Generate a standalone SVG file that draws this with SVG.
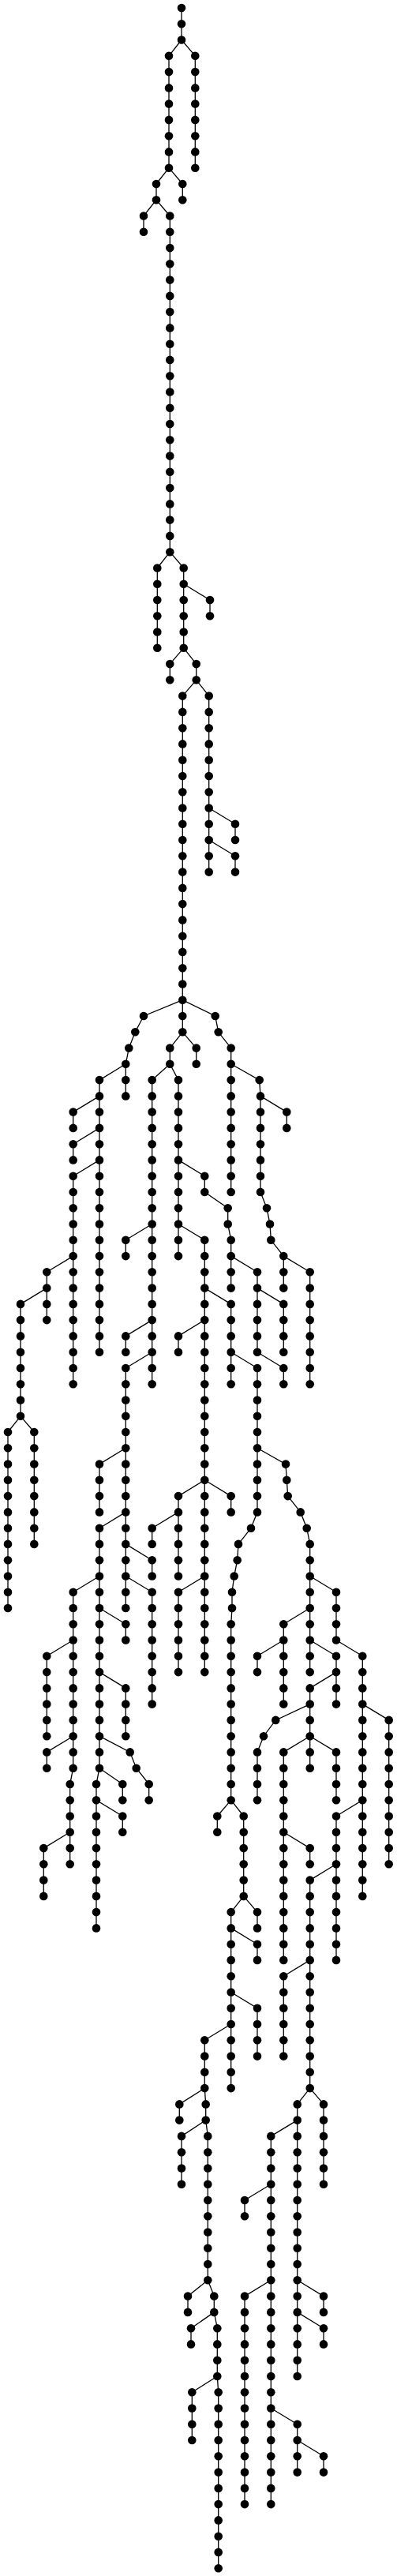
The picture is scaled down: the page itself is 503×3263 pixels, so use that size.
<svg xmlns="http://www.w3.org/2000/svg" width="503" height="3263" viewBox="0 0 503 3263">
<style>
#connectors path{fill:none;stroke:#000;stroke-width:1.3}
#nodes circle{fill:#000}
</style>
<rect width="503" height="3263" fill="#fff"/>
<g id="connectors">
<path d="M230 10V50.5M214 70.8V212.7M247.3 70.8V212.7M198 233V253.2M231.3 233V253.2M182 273.5V293.8M215.3 273.5V699.2M199.3 719.5V820.8M232.7 719.5V820.8M266 760V780.3M215.3 841.1V861.3M248.7 841.1V861.3M231.3 881.6V1307.3M264.7 881.6V1104.6M298 1043.8V1064M298 1084.3V1104.6M292.7 1327.6V1510M215.3 1327.6V1347.8M248.7 1327.6V1347.8M159.3 1347.8V1388.4M126 1368.1V1712.7M92.7 1408.6V1428.9M92.7 1449.2V1469.4M92.7 1489.7V1753.2M59.3 1611.3V1672.1M26 1651.9V1793.8M10 1814V2037M43.3 1814V1955.9M192.7 1368.1V1753.2M159.3 1570.8V1591.1M159.3 1692.4V1712.7M159.3 1733V2037M126 1854.6V1915.4M126 1935.7V2239.7M122 2260V2442.4M192.7 1976.2V1996.5M192.7 2016.7V2158.6M92.7 2016.7V2239.7M88.7 2260V2361.3M59.3 2097.8V2199.2M59.3 2219.4V2239.7M55.3 2341.1V2401.9M159.3 2057.3V2077.5M159.3 2138.4V2199.2M188.7 2260V2280.2M155.3 2260V2280.2M155.3 2300.5V2320.8M226 1368.1V1591.1M259.3 1489.7V1510M288.7 1530.3V1550.5M292.7 1570.8V1631.6M326 1611.3V1712.7M359.3 1651.9V1712.7M359.3 1733V1753.2M292.7 1651.9V1753.2M326 1733V1915.4M294 2016.7V2037M292.7 2057.3V2280.2M392.7 1955.9V2118.1M426 2016.7V2077.5M459.3 2097.8V2401.9M492.7 2178.9V2361.3M426 2097.8V2158.6M392.7 2138.4V2239.7M359.3 2057.3V2158.6M326 2097.8V2118.1M326 2219.4V2280.2M359.3 2219.4V2482.9M426 2219.4V2280.2M392.7 2341.1V2361.3M426 2300.5V2482.9M392.7 2381.6V2645.1M275.3 2300.5V2320.8M308.7 2300.5V2401.9M292.7 2422.1V2645.1M326 2422.1V2442.4M326 2462.7V2482.9M326 2543.8V2604.6M259.3 2584.3V2645.1M359.3 2503.2V2604.6M227.3 2665.4V2685.6M260.7 2665.4V2685.6M230 2705.9V2766.7M263.3 2705.9V2888.3M376.7 2665.4V3010M410 2665.4V2766.7M343.3 2705.9V3172.1M310 2787V2807.3M310 2908.6V3172.1M410 2908.6V2928.9M410 2949.2V2969.4M238 2908.6V2928.9M271.3 2908.6V2928.9M242 2949.2V2969.4M275.3 2949.2V3010M243.3 3030.2V3091M276.7 3030.2V3253.2M376.7 3070.8V3131.6M410 3111.3V3131.6M330 1388.4V1510M359.3 1591.1V1631.6M363.3 1408.6V1428.9M392.7 1611.3V1753.2M259.3 1570.8V2118.1M226 1692.4V1712.7M226 1895.1V1996.5M292.7 1895.1V1915.4M192.7 1935.7V1955.9M226 2016.7V2118.1"/>
<path d="M230 50.5L214 70.8M230 50.5L247.3 70.8M214 212.7L198 233M214 212.7L231.3 233M198 253.2L182 273.5M198 253.2L215.3 273.5M215.3 699.2L199.3 719.5M215.3 699.2L232.7 719.5M232.7 739.7L266 760M232.7 820.8L215.3 841.1M232.7 820.8L248.7 841.1M248.7 861.3L231.3 881.6M248.7 861.3L264.7 881.6M264.7 1023.5L298 1043.8M264.7 1064L298 1084.3M231.3 1266.7L182 1287L171.3 1307.3L163.3 1327.6L159.3 1347.8M231.3 1266.7L272.7 1287L276.7 1307.3L292.7 1327.6M159.3 1347.8L126 1368.1M231.3 1307.3L215.3 1327.6M231.3 1307.3L248.7 1327.6M292.7 1347.8L328.7 1368.1L330 1388.4M330 1510L338 1530.3L342 1550.5L343.3 1570.8L359.3 1591.1M330 1388.4L363.3 1408.6M359.3 1591.1L392.7 1611.3M215.3 1347.8L192.7 1368.1M215.3 1347.8L226 1368.1M126 1388.4L92.7 1408.6M126 1428.9L92.7 1449.2M126 1469.4L92.7 1489.7M92.7 1591.1L59.3 1611.3M59.3 1631.6L26 1651.9M26 1793.8L10 1814M26 1793.8L43.3 1814M192.7 1550.5L159.3 1570.8M192.7 1672.1L159.3 1692.4M192.7 1712.7L159.3 1733M159.3 1834.3L126 1854.6M159.3 1915.4L126 1935.7M159.3 1955.9L192.7 1976.2M159.3 1996.5L192.7 2016.7M126 1996.5L92.7 2016.7M126 2037L159.3 2057.3M126 2118.1L159.3 2138.4M126 2199.2L164.7 2219.4L172.7 2239.7L188.7 2260M126 2239.7L155.3 2260M126 2239.7L122 2260M122 2280.2L155.3 2300.5M92.7 2077.5L59.3 2097.8M92.7 2199.2L59.3 2219.4M92.7 2239.7L88.7 2260M88.7 2320.8L55.3 2341.1M226 1469.4L259.3 1489.7M226 1550.5L259.3 1570.8M259.3 1510L288.7 1530.3M288.7 1550.5L292.7 1570.8M292.7 1591.1L326 1611.3M326 1631.6L359.3 1651.9M326 1712.7L359.3 1733M259.3 1631.6L292.7 1651.9M259.3 1672.1L226 1692.4M259.3 1874.8L226 1895.1M259.3 1874.8L292.7 1895.1M259.3 1996.5L226 2016.7M226 1915.4L192.7 1935.7M292.7 1712.7L326 1733M326 1915.4L318 1935.7L302 1955.9L300.7 1976.2L296.7 1996.5L294 2016.7M294 2037L292.7 2057.3M326 1834.3L362 1854.6L363.3 1874.8L364.7 1895.1L380.7 1915.4L388.7 1935.7L392.7 1955.9M392.7 1996.5L426 2016.7M392.7 2037L359.3 2057.3M392.7 2077.5L426 2097.8M426 2077.5L459.3 2097.8M426 2118.1L392.7 2138.4M392.7 2158.6L349.3 2178.9L334 2199.2L326 2219.4M392.7 2199.2L359.3 2219.4M392.7 2199.2L426 2219.4M459.3 2158.6L492.7 2178.9M459.3 2280.2L426 2300.5M359.3 2077.5L326 2097.8M359.3 2320.8L392.7 2341.1M426 2361.3L392.7 2381.6M392.7 2482.9L359.3 2503.2M392.7 2645.1L376.7 2665.4M392.7 2645.1L410 2665.4M292.7 2280.2L275.3 2300.5M292.7 2280.2L308.7 2300.5M308.7 2401.9L292.7 2422.1M308.7 2401.9L326 2422.1M292.7 2442.4L326 2462.7M292.7 2523.5L326 2543.8M292.7 2564L259.3 2584.3M259.3 2645.1L227.3 2665.4M259.3 2645.1L260.7 2665.4M260.7 2685.6L230 2705.9M260.7 2685.6L263.3 2705.9M263.3 2888.3L238 2908.6M263.3 2888.3L271.3 2908.6M271.3 2928.9L242 2949.2M271.3 2928.9L275.3 2949.2M275.3 3010L243.3 3030.2M275.3 3010L276.7 3030.2M376.7 2685.6L343.3 2705.9M376.7 2888.3L410 2908.6M376.7 2928.9L410 2949.2M343.3 2766.7L310 2787M343.3 2888.3L310 2908.6M343.3 3050.5L376.7 3070.8M376.7 3091L410 3111.3"/>
</g>
<g id="nodes">
<circle id="n0_690" cx="230" cy="10" r="5.3"/><circle id="n1_690" cx="230" cy="30.3" r="5.3"/><circle id="n2_690" cx="230" cy="50.5" r="5.3"/>
<circle id="n3_642" cx="214" cy="70.8" r="5.3"/><circle id="n4_642" cx="214" cy="91.1" r="5.3"/><circle id="n5_642" cx="214" cy="111.4" r="5.3"/><circle id="n6_642" cx="214" cy="131.6" r="5.3"/><circle id="n7_642" cx="214" cy="151.9" r="5.3"/><circle id="n8_642" cx="214" cy="172.2" r="5.3"/><circle id="n9_642" cx="214" cy="192.4" r="5.3"/><circle id="n10_642" cx="214" cy="212.7" r="5.3"/>
<circle id="n3_742" cx="247.3" cy="70.8" r="5.3"/><circle id="n4_742" cx="247.3" cy="91.1" r="5.3"/><circle id="n5_742" cx="247.3" cy="111.4" r="5.3"/><circle id="n6_742" cx="247.3" cy="131.6" r="5.3"/><circle id="n7_742" cx="247.3" cy="151.9" r="5.3"/><circle id="n8_742" cx="247.3" cy="172.2" r="5.3"/><circle id="n9_742" cx="247.3" cy="192.4" r="5.3"/><circle id="n10_742" cx="247.3" cy="212.7" r="5.3"/>
<circle id="n11_594" cx="198" cy="233" r="5.3"/><circle id="n12_594" cx="198" cy="253.2" r="5.3"/>
<circle id="n11_694" cx="231.3" cy="233" r="5.3"/><circle id="n12_694" cx="231.3" cy="253.2" r="5.3"/>
<circle id="n13_546" cx="182" cy="273.5" r="5.3"/><circle id="n14_546" cx="182" cy="293.8" r="5.3"/>
<circle id="n13_646" cx="215.3" cy="273.5" r="5.3"/><circle id="n14_646" cx="215.3" cy="293.8" r="5.3"/><circle id="n15_646" cx="215.3" cy="314.1" r="5.3"/><circle id="n16_646" cx="215.3" cy="334.3" r="5.3"/><circle id="n17_646" cx="215.3" cy="354.6" r="5.3"/><circle id="n18_646" cx="215.3" cy="374.9" r="5.3"/><circle id="n19_646" cx="215.3" cy="395.1" r="5.3"/><circle id="n20_646" cx="215.3" cy="415.4" r="5.3"/><circle id="n21_646" cx="215.3" cy="435.7" r="5.3"/><circle id="n22_646" cx="215.3" cy="455.9" r="5.3"/><circle id="n23_646" cx="215.3" cy="476.2" r="5.3"/><circle id="n24_646" cx="215.3" cy="496.5" r="5.3"/><circle id="n25_646" cx="215.3" cy="516.8" r="5.3"/><circle id="n26_646" cx="215.3" cy="537" r="5.3"/><circle id="n27_646" cx="215.3" cy="557.3" r="5.3"/><circle id="n28_646" cx="215.3" cy="577.6" r="5.3"/><circle id="n29_646" cx="215.3" cy="597.8" r="5.3"/><circle id="n30_646" cx="215.3" cy="618.1" r="5.3"/><circle id="n31_646" cx="215.3" cy="638.4" r="5.3"/><circle id="n32_646" cx="215.3" cy="658.6" r="5.3"/><circle id="n33_646" cx="215.3" cy="678.9" r="5.3"/><circle id="n34_646" cx="215.3" cy="699.2" r="5.3"/>
<circle id="n35_598" cx="199.3" cy="719.5" r="5.3"/><circle id="n36_598" cx="199.3" cy="739.7" r="5.3"/><circle id="n37_598" cx="199.3" cy="760" r="5.3"/><circle id="n38_598" cx="199.3" cy="780.3" r="5.3"/><circle id="n39_598" cx="199.3" cy="800.5" r="5.3"/><circle id="n40_598" cx="199.3" cy="820.8" r="5.3"/>
<circle id="n35_698" cx="232.7" cy="719.5" r="5.3"/><circle id="n36_698" cx="232.7" cy="739.7" r="5.3"/><circle id="n37_698" cx="232.7" cy="760" r="5.3"/><circle id="n38_698" cx="232.7" cy="780.3" r="5.3"/><circle id="n39_698" cx="232.7" cy="800.5" r="5.3"/><circle id="n40_698" cx="232.7" cy="820.8" r="5.3"/>
<circle id="n37_798" cx="266" cy="760" r="5.3"/><circle id="n38_798" cx="266" cy="780.3" r="5.3"/>
<circle id="n41_646" cx="215.3" cy="841.1" r="5.3"/><circle id="n42_646" cx="215.3" cy="861.3" r="5.3"/>
<circle id="n41_746" cx="248.7" cy="841.1" r="5.3"/><circle id="n42_746" cx="248.7" cy="861.3" r="5.3"/>
<circle id="n43_694" cx="231.3" cy="881.6" r="5.3"/><circle id="n44_694" cx="231.3" cy="901.9" r="5.3"/><circle id="n45_694" cx="231.3" cy="922.2" r="5.3"/><circle id="n46_694" cx="231.3" cy="942.4" r="5.3"/><circle id="n47_694" cx="231.3" cy="962.7" r="5.3"/><circle id="n48_694" cx="231.3" cy="983" r="5.3"/><circle id="n49_694" cx="231.3" cy="1003.2" r="5.3"/><circle id="n50_694" cx="231.3" cy="1023.5" r="5.3"/><circle id="n51_694" cx="231.3" cy="1043.8" r="5.3"/><circle id="n52_694" cx="231.3" cy="1064" r="5.3"/><circle id="n53_694" cx="231.3" cy="1084.3" r="5.3"/><circle id="n54_694" cx="231.3" cy="1104.6" r="5.3"/><circle id="n55_694" cx="231.3" cy="1124.9" r="5.3"/><circle id="n56_694" cx="231.3" cy="1145.1" r="5.3"/><circle id="n57_694" cx="231.3" cy="1165.4" r="5.3"/><circle id="n58_694" cx="231.3" cy="1185.7" r="5.3"/><circle id="n59_694" cx="231.3" cy="1205.9" r="5.3"/><circle id="n60_694" cx="231.3" cy="1226.2" r="5.3"/><circle id="n61_694" cx="231.3" cy="1246.5" r="5.3"/><circle id="n62_694" cx="231.3" cy="1266.7" r="5.3"/><circle id="n63_694" cx="231.3" cy="1287" r="5.3"/><circle id="n64_694" cx="231.3" cy="1307.3" r="5.3"/>
<circle id="n43_794" cx="264.7" cy="881.6" r="5.3"/><circle id="n44_794" cx="264.7" cy="901.9" r="5.3"/><circle id="n45_794" cx="264.7" cy="922.2" r="5.3"/><circle id="n46_794" cx="264.7" cy="942.4" r="5.3"/><circle id="n47_794" cx="264.7" cy="962.7" r="5.3"/><circle id="n48_794" cx="264.7" cy="983" r="5.3"/><circle id="n49_794" cx="264.7" cy="1003.2" r="5.3"/><circle id="n50_794" cx="264.7" cy="1023.5" r="5.3"/><circle id="n51_794" cx="264.7" cy="1043.8" r="5.3"/><circle id="n52_794" cx="264.7" cy="1064" r="5.3"/><circle id="n53_794" cx="264.7" cy="1084.3" r="5.3"/><circle id="n54_794" cx="264.7" cy="1104.6" r="5.3"/>
<circle id="n51_894" cx="298" cy="1043.8" r="5.3"/><circle id="n52_894" cx="298" cy="1064" r="5.3"/><circle id="n53_894" cx="298" cy="1084.3" r="5.3"/><circle id="n54_894" cx="298" cy="1104.6" r="5.3"/>
<circle id="n63_546" cx="182" cy="1287" r="5.3"/><circle id="n64_514" cx="171.3" cy="1307.3" r="5.3"/><circle id="n65_490" cx="163.3" cy="1327.6" r="5.3"/><circle id="n66_478" cx="159.3" cy="1347.8" r="5.3"/><circle id="n67_478" cx="159.3" cy="1368.1" r="5.3"/><circle id="n68_478" cx="159.3" cy="1388.4" r="5.3"/>
<circle id="n63_818" cx="272.7" cy="1287" r="5.3"/><circle id="n64_830" cx="276.7" cy="1307.3" r="5.3"/>
<circle id="n65_878" cx="292.7" cy="1327.6" r="5.3"/><circle id="n66_878" cx="292.7" cy="1347.8" r="5.3"/><circle id="n67_878" cx="292.7" cy="1368.1" r="5.3"/><circle id="n68_878" cx="292.7" cy="1388.4" r="5.3"/><circle id="n69_878" cx="292.7" cy="1408.6" r="5.3"/><circle id="n70_878" cx="292.7" cy="1428.9" r="5.3"/><circle id="n71_878" cx="292.7" cy="1449.2" r="5.3"/><circle id="n72_878" cx="292.7" cy="1469.4" r="5.3"/><circle id="n73_878" cx="292.7" cy="1489.7" r="5.3"/><circle id="n74_878" cx="292.7" cy="1510" r="5.3"/>
<circle id="n65_646" cx="215.3" cy="1327.6" r="5.3"/><circle id="n66_646" cx="215.3" cy="1347.8" r="5.3"/>
<circle id="n65_746" cx="248.7" cy="1327.6" r="5.3"/><circle id="n66_746" cx="248.7" cy="1347.8" r="5.3"/>
<circle id="n67_378" cx="126" cy="1368.1" r="5.3"/><circle id="n68_378" cx="126" cy="1388.4" r="5.3"/><circle id="n69_378" cx="126" cy="1408.6" r="5.3"/><circle id="n70_378" cx="126" cy="1428.9" r="5.3"/><circle id="n71_378" cx="126" cy="1449.2" r="5.3"/><circle id="n72_378" cx="126" cy="1469.4" r="5.3"/><circle id="n73_378" cx="126" cy="1489.7" r="5.3"/><circle id="n74_378" cx="126" cy="1510" r="5.3"/><circle id="n75_378" cx="126" cy="1530.3" r="5.3"/><circle id="n76_378" cx="126" cy="1550.5" r="5.3"/><circle id="n77_378" cx="126" cy="1570.8" r="5.3"/><circle id="n78_378" cx="126" cy="1591.1" r="5.3"/><circle id="n79_378" cx="126" cy="1611.3" r="5.3"/><circle id="n80_378" cx="126" cy="1631.6" r="5.3"/><circle id="n81_378" cx="126" cy="1651.9" r="5.3"/><circle id="n82_378" cx="126" cy="1672.1" r="5.3"/><circle id="n83_378" cx="126" cy="1692.4" r="5.3"/><circle id="n84_378" cx="126" cy="1712.7" r="5.3"/>
<circle id="n69_278" cx="92.7" cy="1408.6" r="5.3"/><circle id="n70_278" cx="92.7" cy="1428.9" r="5.3"/>
<circle id="n71_278" cx="92.7" cy="1449.2" r="5.3"/><circle id="n72_278" cx="92.7" cy="1469.4" r="5.3"/>
<circle id="n73_278" cx="92.7" cy="1489.7" r="5.3"/><circle id="n74_278" cx="92.7" cy="1510" r="5.3"/><circle id="n75_278" cx="92.7" cy="1530.3" r="5.3"/><circle id="n76_278" cx="92.7" cy="1550.5" r="5.3"/><circle id="n77_278" cx="92.7" cy="1570.8" r="5.3"/><circle id="n78_278" cx="92.7" cy="1591.1" r="5.3"/><circle id="n79_278" cx="92.7" cy="1611.3" r="5.3"/><circle id="n80_278" cx="92.7" cy="1631.6" r="5.3"/><circle id="n81_278" cx="92.7" cy="1651.9" r="5.3"/><circle id="n82_278" cx="92.7" cy="1672.1" r="5.3"/><circle id="n83_278" cx="92.7" cy="1692.4" r="5.3"/><circle id="n84_278" cx="92.7" cy="1712.7" r="5.3"/><circle id="n85_278" cx="92.7" cy="1733" r="5.3"/><circle id="n86_278" cx="92.7" cy="1753.2" r="5.3"/>
<circle id="n79_178" cx="59.3" cy="1611.3" r="5.3"/><circle id="n80_178" cx="59.3" cy="1631.6" r="5.3"/><circle id="n81_178" cx="59.3" cy="1651.9" r="5.3"/><circle id="n82_178" cx="59.3" cy="1672.1" r="5.3"/>
<circle id="n81_78" cx="26" cy="1651.9" r="5.3"/><circle id="n82_78" cx="26" cy="1672.1" r="5.3"/><circle id="n83_78" cx="26" cy="1692.4" r="5.3"/><circle id="n84_78" cx="26" cy="1712.7" r="5.3"/><circle id="n85_78" cx="26" cy="1733" r="5.3"/><circle id="n86_78" cx="26" cy="1753.2" r="5.3"/><circle id="n87_78" cx="26" cy="1773.5" r="5.3"/><circle id="n88_78" cx="26" cy="1793.8" r="5.3"/>
<circle id="n89_30" cx="10" cy="1814" r="5.3"/><circle id="n90_30" cx="10" cy="1834.3" r="5.3"/><circle id="n91_30" cx="10" cy="1854.6" r="5.3"/><circle id="n92_30" cx="10" cy="1874.8" r="5.3"/><circle id="n93_30" cx="10" cy="1895.1" r="5.3"/><circle id="n94_30" cx="10" cy="1915.4" r="5.3"/><circle id="n95_30" cx="10" cy="1935.7" r="5.3"/><circle id="n96_30" cx="10" cy="1955.9" r="5.3"/><circle id="n97_30" cx="10" cy="1976.2" r="5.3"/><circle id="n98_30" cx="10" cy="1996.5" r="5.3"/><circle id="n99_30" cx="10" cy="2016.7" r="5.3"/><circle id="n100_30" cx="10" cy="2037" r="5.3"/>
<circle id="n89_130" cx="43.3" cy="1814" r="5.3"/><circle id="n90_130" cx="43.3" cy="1834.3" r="5.3"/><circle id="n91_130" cx="43.3" cy="1854.6" r="5.3"/><circle id="n92_130" cx="43.3" cy="1874.8" r="5.3"/><circle id="n93_130" cx="43.3" cy="1895.1" r="5.3"/><circle id="n94_130" cx="43.3" cy="1915.4" r="5.3"/><circle id="n95_130" cx="43.3" cy="1935.7" r="5.3"/><circle id="n96_130" cx="43.3" cy="1955.9" r="5.3"/>
<circle id="n67_578" cx="192.7" cy="1368.1" r="5.3"/><circle id="n68_578" cx="192.7" cy="1388.4" r="5.3"/><circle id="n69_578" cx="192.7" cy="1408.6" r="5.3"/><circle id="n70_578" cx="192.7" cy="1428.9" r="5.3"/><circle id="n71_578" cx="192.7" cy="1449.2" r="5.3"/><circle id="n72_578" cx="192.7" cy="1469.4" r="5.3"/><circle id="n73_578" cx="192.7" cy="1489.7" r="5.3"/><circle id="n74_578" cx="192.7" cy="1510" r="5.3"/><circle id="n75_578" cx="192.7" cy="1530.3" r="5.3"/><circle id="n76_578" cx="192.7" cy="1550.5" r="5.3"/><circle id="n77_578" cx="192.7" cy="1570.8" r="5.3"/><circle id="n78_578" cx="192.7" cy="1591.1" r="5.3"/><circle id="n79_578" cx="192.7" cy="1611.3" r="5.3"/><circle id="n80_578" cx="192.7" cy="1631.6" r="5.3"/><circle id="n81_578" cx="192.7" cy="1651.9" r="5.3"/><circle id="n82_578" cx="192.7" cy="1672.1" r="5.3"/><circle id="n83_578" cx="192.7" cy="1692.4" r="5.3"/><circle id="n84_578" cx="192.7" cy="1712.7" r="5.3"/><circle id="n85_578" cx="192.7" cy="1733" r="5.3"/><circle id="n86_578" cx="192.7" cy="1753.2" r="5.3"/>
<circle id="n77_478" cx="159.3" cy="1570.8" r="5.3"/><circle id="n78_478" cx="159.3" cy="1591.1" r="5.3"/>
<circle id="n83_478" cx="159.3" cy="1692.4" r="5.3"/><circle id="n84_478" cx="159.3" cy="1712.7" r="5.3"/>
<circle id="n85_478" cx="159.3" cy="1733" r="5.3"/><circle id="n86_478" cx="159.3" cy="1753.2" r="5.3"/><circle id="n87_478" cx="159.3" cy="1773.5" r="5.3"/><circle id="n88_478" cx="159.3" cy="1793.8" r="5.3"/><circle id="n89_478" cx="159.3" cy="1814" r="5.3"/><circle id="n90_478" cx="159.3" cy="1834.3" r="5.3"/><circle id="n91_478" cx="159.3" cy="1854.6" r="5.3"/><circle id="n92_478" cx="159.3" cy="1874.8" r="5.3"/><circle id="n93_478" cx="159.3" cy="1895.1" r="5.3"/><circle id="n94_478" cx="159.3" cy="1915.4" r="5.3"/><circle id="n95_478" cx="159.3" cy="1935.7" r="5.3"/><circle id="n96_478" cx="159.3" cy="1955.9" r="5.3"/><circle id="n97_478" cx="159.3" cy="1976.2" r="5.3"/><circle id="n98_478" cx="159.3" cy="1996.5" r="5.3"/><circle id="n99_478" cx="159.3" cy="2016.7" r="5.3"/><circle id="n100_478" cx="159.3" cy="2037" r="5.3"/>
<circle id="n91_378" cx="126" cy="1854.6" r="5.3"/><circle id="n92_378" cx="126" cy="1874.8" r="5.3"/><circle id="n93_378" cx="126" cy="1895.1" r="5.3"/><circle id="n94_378" cx="126" cy="1915.4" r="5.3"/>
<circle id="n95_378" cx="126" cy="1935.7" r="5.3"/><circle id="n96_378" cx="126" cy="1955.9" r="5.3"/><circle id="n97_378" cx="126" cy="1976.2" r="5.3"/><circle id="n98_378" cx="126" cy="1996.5" r="5.3"/><circle id="n99_378" cx="126" cy="2016.7" r="5.3"/><circle id="n100_378" cx="126" cy="2037" r="5.3"/><circle id="n101_378" cx="126" cy="2057.3" r="5.3"/><circle id="n102_378" cx="126" cy="2077.5" r="5.3"/><circle id="n103_378" cx="126" cy="2097.8" r="5.3"/><circle id="n104_378" cx="126" cy="2118.1" r="5.3"/><circle id="n105_378" cx="126" cy="2138.4" r="5.3"/><circle id="n106_378" cx="126" cy="2158.6" r="5.3"/><circle id="n107_378" cx="126" cy="2178.9" r="5.3"/><circle id="n108_378" cx="126" cy="2199.2" r="5.3"/><circle id="n109_378" cx="126" cy="2219.4" r="5.3"/><circle id="n110_378" cx="126" cy="2239.7" r="5.3"/>
<circle id="n111_366" cx="122" cy="2260" r="5.3"/><circle id="n112_366" cx="122" cy="2280.2" r="5.3"/><circle id="n113_366" cx="122" cy="2300.5" r="5.3"/><circle id="n114_366" cx="122" cy="2320.8" r="5.3"/><circle id="n115_366" cx="122" cy="2341.1" r="5.3"/><circle id="n116_366" cx="122" cy="2361.3" r="5.3"/><circle id="n117_366" cx="122" cy="2381.6" r="5.3"/><circle id="n118_366" cx="122" cy="2401.9" r="5.3"/><circle id="n119_366" cx="122" cy="2422.1" r="5.3"/><circle id="n120_366" cx="122" cy="2442.4" r="5.3"/>
<circle id="n97_578" cx="192.7" cy="1976.2" r="5.3"/><circle id="n98_578" cx="192.7" cy="1996.5" r="5.3"/>
<circle id="n99_578" cx="192.7" cy="2016.7" r="5.3"/><circle id="n100_578" cx="192.7" cy="2037" r="5.3"/><circle id="n101_578" cx="192.7" cy="2057.3" r="5.3"/><circle id="n102_578" cx="192.7" cy="2077.5" r="5.3"/><circle id="n103_578" cx="192.7" cy="2097.8" r="5.3"/><circle id="n104_578" cx="192.7" cy="2118.1" r="5.3"/><circle id="n105_578" cx="192.7" cy="2138.4" r="5.3"/><circle id="n106_578" cx="192.7" cy="2158.6" r="5.3"/>
<circle id="n99_278" cx="92.7" cy="2016.7" r="5.3"/><circle id="n100_278" cx="92.7" cy="2037" r="5.3"/><circle id="n101_278" cx="92.7" cy="2057.3" r="5.3"/><circle id="n102_278" cx="92.7" cy="2077.5" r="5.3"/><circle id="n103_278" cx="92.7" cy="2097.8" r="5.3"/><circle id="n104_278" cx="92.7" cy="2118.1" r="5.3"/><circle id="n105_278" cx="92.7" cy="2138.4" r="5.3"/><circle id="n106_278" cx="92.7" cy="2158.6" r="5.3"/><circle id="n107_278" cx="92.7" cy="2178.9" r="5.3"/><circle id="n108_278" cx="92.7" cy="2199.2" r="5.3"/><circle id="n109_278" cx="92.7" cy="2219.4" r="5.3"/><circle id="n110_278" cx="92.7" cy="2239.7" r="5.3"/>
<circle id="n111_266" cx="88.7" cy="2260" r="5.3"/><circle id="n112_266" cx="88.7" cy="2280.2" r="5.3"/><circle id="n113_266" cx="88.7" cy="2300.5" r="5.3"/><circle id="n114_266" cx="88.7" cy="2320.8" r="5.3"/><circle id="n115_266" cx="88.7" cy="2341.1" r="5.3"/><circle id="n116_266" cx="88.7" cy="2361.3" r="5.3"/>
<circle id="n103_178" cx="59.3" cy="2097.8" r="5.3"/><circle id="n104_178" cx="59.3" cy="2118.1" r="5.3"/><circle id="n105_178" cx="59.3" cy="2138.4" r="5.3"/><circle id="n106_178" cx="59.3" cy="2158.6" r="5.3"/><circle id="n107_178" cx="59.3" cy="2178.9" r="5.3"/><circle id="n108_178" cx="59.3" cy="2199.2" r="5.3"/>
<circle id="n109_178" cx="59.3" cy="2219.4" r="5.3"/><circle id="n110_178" cx="59.3" cy="2239.7" r="5.3"/>
<circle id="n115_166" cx="55.3" cy="2341.1" r="5.3"/><circle id="n116_166" cx="55.3" cy="2361.3" r="5.3"/><circle id="n117_166" cx="55.3" cy="2381.6" r="5.3"/><circle id="n118_166" cx="55.3" cy="2401.9" r="5.3"/>
<circle id="n101_478" cx="159.3" cy="2057.3" r="5.3"/><circle id="n102_478" cx="159.3" cy="2077.5" r="5.3"/>
<circle id="n105_478" cx="159.3" cy="2138.4" r="5.3"/><circle id="n106_478" cx="159.3" cy="2158.6" r="5.3"/><circle id="n107_478" cx="159.3" cy="2178.9" r="5.3"/><circle id="n108_478" cx="159.3" cy="2199.2" r="5.3"/>
<circle id="n109_494" cx="164.7" cy="2219.4" r="5.3"/><circle id="n110_518" cx="172.7" cy="2239.7" r="5.3"/><circle id="n111_566" cx="188.7" cy="2260" r="5.3"/><circle id="n112_566" cx="188.7" cy="2280.2" r="5.3"/>
<circle id="n111_466" cx="155.3" cy="2260" r="5.3"/><circle id="n112_466" cx="155.3" cy="2280.2" r="5.3"/>
<circle id="n113_466" cx="155.3" cy="2300.5" r="5.3"/><circle id="n114_466" cx="155.3" cy="2320.8" r="5.3"/>
<circle id="n67_678" cx="226" cy="1368.1" r="5.3"/><circle id="n68_678" cx="226" cy="1388.4" r="5.3"/><circle id="n69_678" cx="226" cy="1408.6" r="5.3"/><circle id="n70_678" cx="226" cy="1428.9" r="5.3"/><circle id="n71_678" cx="226" cy="1449.2" r="5.3"/><circle id="n72_678" cx="226" cy="1469.4" r="5.3"/><circle id="n73_678" cx="226" cy="1489.7" r="5.3"/><circle id="n74_678" cx="226" cy="1510" r="5.3"/><circle id="n75_678" cx="226" cy="1530.3" r="5.3"/><circle id="n76_678" cx="226" cy="1550.5" r="5.3"/><circle id="n77_678" cx="226" cy="1570.8" r="5.3"/><circle id="n78_678" cx="226" cy="1591.1" r="5.3"/>
<circle id="n73_778" cx="259.3" cy="1489.7" r="5.3"/><circle id="n74_778" cx="259.3" cy="1510" r="5.3"/>
<circle id="n75_866" cx="288.7" cy="1530.3" r="5.3"/><circle id="n76_866" cx="288.7" cy="1550.5" r="5.3"/>
<circle id="n77_878" cx="292.7" cy="1570.8" r="5.3"/><circle id="n78_878" cx="292.7" cy="1591.1" r="5.3"/><circle id="n79_878" cx="292.7" cy="1611.3" r="5.3"/><circle id="n80_878" cx="292.7" cy="1631.6" r="5.3"/>
<circle id="n79_978" cx="326" cy="1611.3" r="5.3"/><circle id="n80_978" cx="326" cy="1631.6" r="5.3"/><circle id="n81_978" cx="326" cy="1651.9" r="5.3"/><circle id="n82_978" cx="326" cy="1672.1" r="5.3"/><circle id="n83_978" cx="326" cy="1692.4" r="5.3"/><circle id="n84_978" cx="326" cy="1712.7" r="5.3"/>
<circle id="n81_1078" cx="359.3" cy="1651.9" r="5.3"/><circle id="n82_1078" cx="359.3" cy="1672.1" r="5.3"/><circle id="n83_1078" cx="359.3" cy="1692.4" r="5.3"/><circle id="n84_1078" cx="359.3" cy="1712.7" r="5.3"/>
<circle id="n85_1078" cx="359.3" cy="1733" r="5.3"/><circle id="n86_1078" cx="359.3" cy="1753.2" r="5.3"/>
<circle id="n81_878" cx="292.7" cy="1651.9" r="5.3"/><circle id="n82_878" cx="292.7" cy="1672.1" r="5.3"/><circle id="n83_878" cx="292.7" cy="1692.4" r="5.3"/><circle id="n84_878" cx="292.7" cy="1712.7" r="5.3"/><circle id="n85_878" cx="292.7" cy="1733" r="5.3"/><circle id="n86_878" cx="292.7" cy="1753.2" r="5.3"/>
<circle id="n85_978" cx="326" cy="1733" r="5.3"/><circle id="n86_978" cx="326" cy="1753.2" r="5.3"/><circle id="n87_978" cx="326" cy="1773.5" r="5.3"/><circle id="n88_978" cx="326" cy="1793.8" r="5.3"/><circle id="n89_978" cx="326" cy="1814" r="5.3"/><circle id="n90_978" cx="326" cy="1834.3" r="5.3"/><circle id="n91_978" cx="326" cy="1854.6" r="5.3"/><circle id="n92_978" cx="326" cy="1874.8" r="5.3"/><circle id="n93_978" cx="326" cy="1895.1" r="5.3"/><circle id="n94_978" cx="326" cy="1915.4" r="5.3"/>
<circle id="n95_954" cx="318" cy="1935.7" r="5.3"/><circle id="n96_906" cx="302" cy="1955.9" r="5.3"/><circle id="n97_902" cx="300.7" cy="1976.2" r="5.3"/><circle id="n98_890" cx="296.7" cy="1996.5" r="5.3"/><circle id="n99_882" cx="294" cy="2016.7" r="5.3"/><circle id="n100_882" cx="294" cy="2037" r="5.3"/>
<circle id="n101_878" cx="292.7" cy="2057.3" r="5.3"/><circle id="n102_878" cx="292.7" cy="2077.5" r="5.3"/><circle id="n103_878" cx="292.7" cy="2097.8" r="5.3"/><circle id="n104_878" cx="292.7" cy="2118.1" r="5.3"/><circle id="n105_878" cx="292.7" cy="2138.4" r="5.3"/><circle id="n106_878" cx="292.7" cy="2158.6" r="5.3"/><circle id="n107_878" cx="292.7" cy="2178.9" r="5.3"/><circle id="n108_878" cx="292.7" cy="2199.2" r="5.3"/><circle id="n109_878" cx="292.7" cy="2219.4" r="5.3"/><circle id="n110_878" cx="292.7" cy="2239.7" r="5.3"/><circle id="n111_878" cx="292.7" cy="2260" r="5.3"/><circle id="n112_878" cx="292.7" cy="2280.2" r="5.3"/>
<circle id="n91_1086" cx="362" cy="1854.6" r="5.3"/><circle id="n92_1090" cx="363.3" cy="1874.8" r="5.3"/><circle id="n93_1094" cx="364.7" cy="1895.1" r="5.3"/><circle id="n94_1142" cx="380.7" cy="1915.4" r="5.3"/><circle id="n95_1166" cx="388.7" cy="1935.7" r="5.3"/>
<circle id="n96_1178" cx="392.7" cy="1955.9" r="5.3"/><circle id="n97_1178" cx="392.7" cy="1976.2" r="5.3"/><circle id="n98_1178" cx="392.7" cy="1996.5" r="5.3"/><circle id="n99_1178" cx="392.7" cy="2016.7" r="5.3"/><circle id="n100_1178" cx="392.7" cy="2037" r="5.3"/><circle id="n101_1178" cx="392.7" cy="2057.3" r="5.3"/><circle id="n102_1178" cx="392.7" cy="2077.5" r="5.3"/><circle id="n103_1178" cx="392.7" cy="2097.8" r="5.3"/><circle id="n104_1178" cx="392.7" cy="2118.1" r="5.3"/>
<circle id="n99_1278" cx="426" cy="2016.7" r="5.3"/><circle id="n100_1278" cx="426" cy="2037" r="5.3"/><circle id="n101_1278" cx="426" cy="2057.3" r="5.3"/><circle id="n102_1278" cx="426" cy="2077.5" r="5.3"/>
<circle id="n103_1378" cx="459.3" cy="2097.8" r="5.3"/><circle id="n104_1378" cx="459.3" cy="2118.1" r="5.3"/><circle id="n105_1378" cx="459.3" cy="2138.4" r="5.3"/><circle id="n106_1378" cx="459.3" cy="2158.6" r="5.3"/><circle id="n107_1378" cx="459.3" cy="2178.9" r="5.3"/><circle id="n108_1378" cx="459.3" cy="2199.2" r="5.3"/><circle id="n109_1378" cx="459.3" cy="2219.4" r="5.3"/><circle id="n110_1378" cx="459.3" cy="2239.7" r="5.3"/><circle id="n111_1378" cx="459.3" cy="2260" r="5.3"/><circle id="n112_1378" cx="459.3" cy="2280.2" r="5.3"/><circle id="n113_1378" cx="459.3" cy="2300.5" r="5.3"/><circle id="n114_1378" cx="459.3" cy="2320.8" r="5.3"/><circle id="n115_1378" cx="459.3" cy="2341.1" r="5.3"/><circle id="n116_1378" cx="459.3" cy="2361.3" r="5.3"/><circle id="n117_1378" cx="459.3" cy="2381.6" r="5.3"/><circle id="n118_1378" cx="459.3" cy="2401.9" r="5.3"/>
<circle id="n107_1478" cx="492.7" cy="2178.9" r="5.3"/><circle id="n108_1478" cx="492.7" cy="2199.2" r="5.3"/><circle id="n109_1478" cx="492.7" cy="2219.4" r="5.3"/><circle id="n110_1478" cx="492.7" cy="2239.7" r="5.3"/><circle id="n111_1478" cx="492.7" cy="2260" r="5.3"/><circle id="n112_1478" cx="492.7" cy="2280.2" r="5.3"/><circle id="n113_1478" cx="492.7" cy="2300.5" r="5.3"/><circle id="n114_1478" cx="492.7" cy="2320.8" r="5.3"/><circle id="n115_1478" cx="492.7" cy="2341.1" r="5.3"/><circle id="n116_1478" cx="492.7" cy="2361.3" r="5.3"/>
<circle id="n103_1278" cx="426" cy="2097.8" r="5.3"/><circle id="n104_1278" cx="426" cy="2118.1" r="5.3"/><circle id="n105_1278" cx="426" cy="2138.4" r="5.3"/><circle id="n106_1278" cx="426" cy="2158.6" r="5.3"/>
<circle id="n105_1178" cx="392.7" cy="2138.4" r="5.3"/><circle id="n106_1178" cx="392.7" cy="2158.6" r="5.3"/><circle id="n107_1178" cx="392.7" cy="2178.9" r="5.3"/><circle id="n108_1178" cx="392.7" cy="2199.2" r="5.3"/><circle id="n109_1178" cx="392.7" cy="2219.4" r="5.3"/><circle id="n110_1178" cx="392.7" cy="2239.7" r="5.3"/>
<circle id="n101_1078" cx="359.3" cy="2057.3" r="5.3"/><circle id="n102_1078" cx="359.3" cy="2077.5" r="5.3"/><circle id="n103_1078" cx="359.3" cy="2097.8" r="5.3"/><circle id="n104_1078" cx="359.3" cy="2118.1" r="5.3"/><circle id="n105_1078" cx="359.3" cy="2138.4" r="5.3"/><circle id="n106_1078" cx="359.3" cy="2158.6" r="5.3"/>
<circle id="n103_978" cx="326" cy="2097.8" r="5.3"/><circle id="n104_978" cx="326" cy="2118.1" r="5.3"/>
<circle id="n107_1048" cx="349.3" cy="2178.9" r="5.3"/><circle id="n108_1002" cx="334" cy="2199.2" r="5.3"/><circle id="n109_978" cx="326" cy="2219.4" r="5.3"/><circle id="n110_978" cx="326" cy="2239.7" r="5.3"/><circle id="n111_978" cx="326" cy="2260" r="5.3"/><circle id="n112_978" cx="326" cy="2280.2" r="5.3"/>
<circle id="n109_1078" cx="359.3" cy="2219.4" r="5.3"/><circle id="n110_1078" cx="359.3" cy="2239.7" r="5.3"/><circle id="n111_1078" cx="359.3" cy="2260" r="5.3"/><circle id="n112_1078" cx="359.3" cy="2280.2" r="5.3"/><circle id="n113_1078" cx="359.3" cy="2300.5" r="5.3"/><circle id="n114_1078" cx="359.3" cy="2320.8" r="5.3"/><circle id="n115_1078" cx="359.3" cy="2341.1" r="5.3"/><circle id="n116_1078" cx="359.3" cy="2361.3" r="5.3"/><circle id="n117_1078" cx="359.3" cy="2381.6" r="5.3"/><circle id="n118_1078" cx="359.3" cy="2401.9" r="5.3"/><circle id="n119_1078" cx="359.3" cy="2422.1" r="5.3"/><circle id="n120_1078" cx="359.3" cy="2442.4" r="5.3"/><circle id="n121_1078" cx="359.3" cy="2462.7" r="5.3"/><circle id="n122_1078" cx="359.3" cy="2482.9" r="5.3"/>
<circle id="n109_1278" cx="426" cy="2219.4" r="5.3"/><circle id="n110_1278" cx="426" cy="2239.7" r="5.3"/><circle id="n111_1278" cx="426" cy="2260" r="5.3"/><circle id="n112_1278" cx="426" cy="2280.2" r="5.3"/>
<circle id="n115_1178" cx="392.7" cy="2341.1" r="5.3"/><circle id="n116_1178" cx="392.7" cy="2361.3" r="5.3"/>
<circle id="n113_1278" cx="426" cy="2300.5" r="5.3"/><circle id="n114_1278" cx="426" cy="2320.8" r="5.3"/><circle id="n115_1278" cx="426" cy="2341.1" r="5.3"/><circle id="n116_1278" cx="426" cy="2361.3" r="5.3"/><circle id="n117_1278" cx="426" cy="2381.6" r="5.3"/><circle id="n118_1278" cx="426" cy="2401.9" r="5.3"/><circle id="n119_1278" cx="426" cy="2422.1" r="5.3"/><circle id="n120_1278" cx="426" cy="2442.4" r="5.3"/><circle id="n121_1278" cx="426" cy="2462.7" r="5.3"/><circle id="n122_1278" cx="426" cy="2482.9" r="5.3"/>
<circle id="n117_1178" cx="392.7" cy="2381.6" r="5.3"/><circle id="n118_1178" cx="392.7" cy="2401.9" r="5.3"/><circle id="n119_1178" cx="392.7" cy="2422.1" r="5.3"/><circle id="n120_1178" cx="392.7" cy="2442.4" r="5.3"/><circle id="n121_1178" cx="392.7" cy="2462.7" r="5.3"/><circle id="n122_1178" cx="392.7" cy="2482.9" r="5.3"/><circle id="n123_1178" cx="392.7" cy="2503.2" r="5.3"/><circle id="n124_1178" cx="392.7" cy="2523.5" r="5.3"/><circle id="n125_1178" cx="392.7" cy="2543.8" r="5.3"/><circle id="n126_1178" cx="392.7" cy="2564" r="5.3"/><circle id="n127_1178" cx="392.7" cy="2584.3" r="5.3"/><circle id="n128_1178" cx="392.7" cy="2604.6" r="5.3"/><circle id="n129_1178" cx="392.7" cy="2624.8" r="5.3"/><circle id="n130_1178" cx="392.7" cy="2645.1" r="5.3"/>
<circle id="n113_826" cx="275.3" cy="2300.5" r="5.3"/><circle id="n114_826" cx="275.3" cy="2320.8" r="5.3"/>
<circle id="n113_926" cx="308.7" cy="2300.5" r="5.3"/><circle id="n114_926" cx="308.7" cy="2320.8" r="5.3"/><circle id="n115_926" cx="308.7" cy="2341.1" r="5.3"/><circle id="n116_926" cx="308.7" cy="2361.3" r="5.3"/><circle id="n117_926" cx="308.7" cy="2381.6" r="5.3"/><circle id="n118_926" cx="308.7" cy="2401.9" r="5.3"/>
<circle id="n119_878" cx="292.7" cy="2422.1" r="5.3"/><circle id="n120_878" cx="292.7" cy="2442.4" r="5.3"/><circle id="n121_878" cx="292.7" cy="2462.7" r="5.3"/><circle id="n122_878" cx="292.7" cy="2482.9" r="5.3"/><circle id="n123_878" cx="292.7" cy="2503.2" r="5.3"/><circle id="n124_878" cx="292.7" cy="2523.5" r="5.3"/><circle id="n125_878" cx="292.7" cy="2543.8" r="5.3"/><circle id="n126_878" cx="292.7" cy="2564" r="5.3"/><circle id="n127_878" cx="292.7" cy="2584.3" r="5.3"/><circle id="n128_878" cx="292.7" cy="2604.6" r="5.3"/><circle id="n129_878" cx="292.7" cy="2624.8" r="5.3"/><circle id="n130_878" cx="292.7" cy="2645.1" r="5.3"/>
<circle id="n119_978" cx="326" cy="2422.1" r="5.3"/><circle id="n120_978" cx="326" cy="2442.4" r="5.3"/>
<circle id="n121_978" cx="326" cy="2462.7" r="5.3"/><circle id="n122_978" cx="326" cy="2482.9" r="5.3"/>
<circle id="n125_978" cx="326" cy="2543.8" r="5.3"/><circle id="n126_978" cx="326" cy="2564" r="5.3"/><circle id="n127_978" cx="326" cy="2584.3" r="5.3"/><circle id="n128_978" cx="326" cy="2604.6" r="5.3"/>
<circle id="n127_778" cx="259.3" cy="2584.3" r="5.3"/><circle id="n128_778" cx="259.3" cy="2604.6" r="5.3"/><circle id="n129_778" cx="259.3" cy="2624.8" r="5.3"/><circle id="n130_778" cx="259.3" cy="2645.1" r="5.3"/>
<circle id="n123_1078" cx="359.3" cy="2503.2" r="5.3"/><circle id="n124_1078" cx="359.3" cy="2523.5" r="5.3"/><circle id="n125_1078" cx="359.3" cy="2543.8" r="5.3"/><circle id="n126_1078" cx="359.3" cy="2564" r="5.3"/><circle id="n127_1078" cx="359.3" cy="2584.3" r="5.3"/><circle id="n128_1078" cx="359.3" cy="2604.6" r="5.3"/>
<circle id="n131_682" cx="227.3" cy="2665.4" r="5.3"/><circle id="n132_682" cx="227.3" cy="2685.6" r="5.3"/>
<circle id="n131_782" cx="260.7" cy="2665.4" r="5.3"/><circle id="n132_782" cx="260.7" cy="2685.6" r="5.3"/>
<circle id="n133_690" cx="230" cy="2705.9" r="5.3"/><circle id="n134_690" cx="230" cy="2726.2" r="5.3"/><circle id="n135_690" cx="230" cy="2746.5" r="5.3"/><circle id="n136_690" cx="230" cy="2766.7" r="5.3"/>
<circle id="n133_790" cx="263.3" cy="2705.9" r="5.3"/><circle id="n134_790" cx="263.3" cy="2726.2" r="5.3"/><circle id="n135_790" cx="263.3" cy="2746.5" r="5.3"/><circle id="n136_790" cx="263.3" cy="2766.7" r="5.3"/><circle id="n137_790" cx="263.3" cy="2787" r="5.3"/><circle id="n138_790" cx="263.3" cy="2807.3" r="5.3"/><circle id="n139_790" cx="263.3" cy="2827.5" r="5.3"/><circle id="n140_790" cx="263.3" cy="2847.8" r="5.3"/><circle id="n141_790" cx="263.3" cy="2868.1" r="5.3"/><circle id="n142_790" cx="263.3" cy="2888.3" r="5.3"/>
<circle id="n131_1130" cx="376.7" cy="2665.4" r="5.3"/><circle id="n132_1130" cx="376.7" cy="2685.6" r="5.3"/><circle id="n133_1130" cx="376.7" cy="2705.9" r="5.3"/><circle id="n134_1130" cx="376.7" cy="2726.2" r="5.3"/><circle id="n135_1130" cx="376.7" cy="2746.5" r="5.3"/><circle id="n136_1130" cx="376.7" cy="2766.7" r="5.3"/><circle id="n137_1130" cx="376.7" cy="2787" r="5.3"/><circle id="n138_1130" cx="376.7" cy="2807.3" r="5.3"/><circle id="n139_1130" cx="376.7" cy="2827.5" r="5.3"/><circle id="n140_1130" cx="376.7" cy="2847.8" r="5.3"/><circle id="n141_1130" cx="376.7" cy="2868.1" r="5.3"/><circle id="n142_1130" cx="376.7" cy="2888.3" r="5.3"/><circle id="n143_1130" cx="376.7" cy="2908.6" r="5.3"/><circle id="n144_1130" cx="376.7" cy="2928.9" r="5.3"/><circle id="n145_1130" cx="376.7" cy="2949.2" r="5.3"/><circle id="n146_1130" cx="376.7" cy="2969.4" r="5.3"/><circle id="n147_1130" cx="376.7" cy="2989.7" r="5.3"/><circle id="n148_1130" cx="376.7" cy="3010" r="5.3"/>
<circle id="n131_1230" cx="410" cy="2665.4" r="5.3"/><circle id="n132_1230" cx="410" cy="2685.6" r="5.3"/><circle id="n133_1230" cx="410" cy="2705.9" r="5.3"/><circle id="n134_1230" cx="410" cy="2726.2" r="5.3"/><circle id="n135_1230" cx="410" cy="2746.5" r="5.3"/><circle id="n136_1230" cx="410" cy="2766.7" r="5.3"/>
<circle id="n133_1030" cx="343.3" cy="2705.9" r="5.3"/><circle id="n134_1030" cx="343.3" cy="2726.2" r="5.3"/><circle id="n135_1030" cx="343.3" cy="2746.5" r="5.3"/><circle id="n136_1030" cx="343.3" cy="2766.7" r="5.3"/><circle id="n137_1030" cx="343.3" cy="2787" r="5.3"/><circle id="n138_1030" cx="343.3" cy="2807.3" r="5.3"/><circle id="n139_1030" cx="343.3" cy="2827.5" r="5.3"/><circle id="n140_1030" cx="343.3" cy="2847.8" r="5.3"/><circle id="n141_1030" cx="343.3" cy="2868.1" r="5.3"/><circle id="n142_1030" cx="343.3" cy="2888.3" r="5.3"/><circle id="n143_1030" cx="343.3" cy="2908.6" r="5.3"/><circle id="n144_1030" cx="343.3" cy="2928.9" r="5.3"/><circle id="n145_1030" cx="343.3" cy="2949.2" r="5.3"/><circle id="n146_1030" cx="343.3" cy="2969.4" r="5.3"/><circle id="n147_1030" cx="343.3" cy="2989.7" r="5.3"/><circle id="n148_1030" cx="343.3" cy="3010" r="5.3"/><circle id="n149_1030" cx="343.3" cy="3030.2" r="5.3"/><circle id="n150_1030" cx="343.3" cy="3050.5" r="5.3"/><circle id="n151_1030" cx="343.3" cy="3070.8" r="5.3"/><circle id="n152_1030" cx="343.3" cy="3091" r="5.3"/><circle id="n153_1030" cx="343.3" cy="3111.3" r="5.3"/><circle id="n154_1030" cx="343.3" cy="3131.6" r="5.3"/><circle id="n155_1030" cx="343.3" cy="3151.9" r="5.3"/><circle id="n156_1030" cx="343.3" cy="3172.1" r="5.3"/>
<circle id="n137_930" cx="310" cy="2787" r="5.3"/><circle id="n138_930" cx="310" cy="2807.3" r="5.3"/>
<circle id="n143_930" cx="310" cy="2908.6" r="5.3"/><circle id="n144_930" cx="310" cy="2928.9" r="5.3"/><circle id="n145_930" cx="310" cy="2949.2" r="5.3"/><circle id="n146_930" cx="310" cy="2969.4" r="5.3"/><circle id="n147_930" cx="310" cy="2989.7" r="5.3"/><circle id="n148_930" cx="310" cy="3010" r="5.3"/><circle id="n149_930" cx="310" cy="3030.2" r="5.3"/><circle id="n150_930" cx="310" cy="3050.5" r="5.3"/><circle id="n151_930" cx="310" cy="3070.8" r="5.3"/><circle id="n152_930" cx="310" cy="3091" r="5.3"/><circle id="n153_930" cx="310" cy="3111.3" r="5.3"/><circle id="n154_930" cx="310" cy="3131.6" r="5.3"/><circle id="n155_930" cx="310" cy="3151.9" r="5.3"/><circle id="n156_930" cx="310" cy="3172.1" r="5.3"/>
<circle id="n143_1230" cx="410" cy="2908.6" r="5.3"/><circle id="n144_1230" cx="410" cy="2928.9" r="5.3"/>
<circle id="n145_1230" cx="410" cy="2949.2" r="5.3"/><circle id="n146_1230" cx="410" cy="2969.4" r="5.3"/>
<circle id="n143_714" cx="238" cy="2908.6" r="5.3"/><circle id="n144_714" cx="238" cy="2928.9" r="5.3"/>
<circle id="n143_814" cx="271.3" cy="2908.6" r="5.3"/><circle id="n144_814" cx="271.3" cy="2928.9" r="5.3"/>
<circle id="n145_726" cx="242" cy="2949.2" r="5.3"/><circle id="n146_726" cx="242" cy="2969.4" r="5.3"/>
<circle id="n145_826" cx="275.3" cy="2949.2" r="5.3"/><circle id="n146_826" cx="275.3" cy="2969.4" r="5.3"/><circle id="n147_826" cx="275.3" cy="2989.7" r="5.3"/><circle id="n148_826" cx="275.3" cy="3010" r="5.3"/>
<circle id="n149_730" cx="243.3" cy="3030.2" r="5.3"/><circle id="n150_730" cx="243.3" cy="3050.5" r="5.3"/><circle id="n151_730" cx="243.3" cy="3070.8" r="5.3"/><circle id="n152_730" cx="243.3" cy="3091" r="5.3"/>
<circle id="n149_830" cx="276.7" cy="3030.2" r="5.3"/><circle id="n150_830" cx="276.7" cy="3050.5" r="5.3"/><circle id="n151_830" cx="276.7" cy="3070.8" r="5.3"/><circle id="n152_830" cx="276.7" cy="3091" r="5.3"/><circle id="n153_830" cx="276.7" cy="3111.3" r="5.3"/><circle id="n154_830" cx="276.7" cy="3131.6" r="5.3"/><circle id="n155_830" cx="276.7" cy="3151.9" r="5.3"/><circle id="n156_830" cx="276.7" cy="3172.1" r="5.3"/><circle id="n157_830" cx="276.7" cy="3192.4" r="5.3"/><circle id="n158_830" cx="276.7" cy="3212.7" r="5.3"/><circle id="n159_830" cx="276.7" cy="3232.9" r="5.3"/><circle id="n160_830" cx="276.7" cy="3253.2" r="5.3"/>
<circle id="n151_1130" cx="376.7" cy="3070.8" r="5.3"/><circle id="n152_1130" cx="376.7" cy="3091" r="5.3"/><circle id="n153_1130" cx="376.7" cy="3111.3" r="5.3"/><circle id="n154_1130" cx="376.7" cy="3131.6" r="5.3"/>
<circle id="n153_1230" cx="410" cy="3111.3" r="5.3"/><circle id="n154_1230" cx="410" cy="3131.6" r="5.3"/>
<circle id="n67_986" cx="328.7" cy="1368.1" r="5.3"/>
<circle id="n68_990" cx="330" cy="1388.4" r="5.3"/><circle id="n69_990" cx="330" cy="1408.6" r="5.3"/><circle id="n70_990" cx="330" cy="1428.9" r="5.3"/><circle id="n71_990" cx="330" cy="1449.2" r="5.3"/><circle id="n72_990" cx="330" cy="1469.4" r="5.3"/><circle id="n73_990" cx="330" cy="1489.7" r="5.3"/><circle id="n74_990" cx="330" cy="1510" r="5.3"/>
<circle id="n75_1014" cx="338" cy="1530.3" r="5.3"/><circle id="n76_1026" cx="342" cy="1550.5" r="5.3"/><circle id="n77_1030" cx="343.3" cy="1570.8" r="5.3"/>
<circle id="n78_1078" cx="359.3" cy="1591.1" r="5.3"/><circle id="n79_1078" cx="359.3" cy="1611.3" r="5.3"/><circle id="n80_1078" cx="359.3" cy="1631.6" r="5.3"/>
<circle id="n69_1090" cx="363.3" cy="1408.6" r="5.3"/><circle id="n70_1090" cx="363.3" cy="1428.9" r="5.3"/>
<circle id="n79_1178" cx="392.7" cy="1611.3" r="5.3"/><circle id="n80_1178" cx="392.7" cy="1631.6" r="5.3"/><circle id="n81_1178" cx="392.7" cy="1651.9" r="5.3"/><circle id="n82_1178" cx="392.7" cy="1672.1" r="5.3"/><circle id="n83_1178" cx="392.7" cy="1692.4" r="5.3"/><circle id="n84_1178" cx="392.7" cy="1712.7" r="5.3"/><circle id="n85_1178" cx="392.7" cy="1733" r="5.3"/><circle id="n86_1178" cx="392.7" cy="1753.2" r="5.3"/>
<circle id="n77_778" cx="259.3" cy="1570.8" r="5.3"/><circle id="n78_778" cx="259.3" cy="1591.1" r="5.3"/><circle id="n79_778" cx="259.3" cy="1611.3" r="5.3"/><circle id="n80_778" cx="259.3" cy="1631.6" r="5.3"/><circle id="n81_778" cx="259.3" cy="1651.9" r="5.3"/><circle id="n82_778" cx="259.3" cy="1672.1" r="5.3"/><circle id="n83_778" cx="259.3" cy="1692.4" r="5.3"/><circle id="n84_778" cx="259.3" cy="1712.7" r="5.3"/><circle id="n85_778" cx="259.3" cy="1733" r="5.3"/><circle id="n86_778" cx="259.3" cy="1753.2" r="5.3"/><circle id="n87_778" cx="259.3" cy="1773.5" r="5.3"/><circle id="n88_778" cx="259.3" cy="1793.8" r="5.3"/><circle id="n89_778" cx="259.3" cy="1814" r="5.3"/><circle id="n90_778" cx="259.3" cy="1834.3" r="5.3"/><circle id="n91_778" cx="259.3" cy="1854.6" r="5.3"/><circle id="n92_778" cx="259.3" cy="1874.8" r="5.3"/><circle id="n93_778" cx="259.3" cy="1895.1" r="5.3"/><circle id="n94_778" cx="259.3" cy="1915.4" r="5.3"/><circle id="n95_778" cx="259.3" cy="1935.7" r="5.3"/><circle id="n96_778" cx="259.3" cy="1955.9" r="5.3"/><circle id="n97_778" cx="259.3" cy="1976.2" r="5.3"/><circle id="n98_778" cx="259.3" cy="1996.5" r="5.3"/><circle id="n99_778" cx="259.3" cy="2016.7" r="5.3"/><circle id="n100_778" cx="259.3" cy="2037" r="5.3"/><circle id="n101_778" cx="259.3" cy="2057.3" r="5.3"/><circle id="n102_778" cx="259.3" cy="2077.5" r="5.3"/><circle id="n103_778" cx="259.3" cy="2097.8" r="5.3"/><circle id="n104_778" cx="259.3" cy="2118.1" r="5.3"/>
<circle id="n83_678" cx="226" cy="1692.4" r="5.3"/><circle id="n84_678" cx="226" cy="1712.7" r="5.3"/>
<circle id="n93_678" cx="226" cy="1895.1" r="5.3"/><circle id="n94_678" cx="226" cy="1915.4" r="5.3"/><circle id="n95_678" cx="226" cy="1935.7" r="5.3"/><circle id="n96_678" cx="226" cy="1955.9" r="5.3"/><circle id="n97_678" cx="226" cy="1976.2" r="5.3"/><circle id="n98_678" cx="226" cy="1996.5" r="5.3"/>
<circle id="n93_878" cx="292.7" cy="1895.1" r="5.3"/><circle id="n94_878" cx="292.7" cy="1915.4" r="5.3"/>
<circle id="n95_578" cx="192.7" cy="1935.7" r="5.3"/><circle id="n96_578" cx="192.7" cy="1955.9" r="5.3"/>
<circle id="n99_678" cx="226" cy="2016.7" r="5.3"/><circle id="n100_678" cx="226" cy="2037" r="5.3"/><circle id="n101_678" cx="226" cy="2057.3" r="5.3"/><circle id="n102_678" cx="226" cy="2077.5" r="5.3"/><circle id="n103_678" cx="226" cy="2097.8" r="5.3"/><circle id="n104_678" cx="226" cy="2118.1" r="5.3"/>
</g>
</svg>
